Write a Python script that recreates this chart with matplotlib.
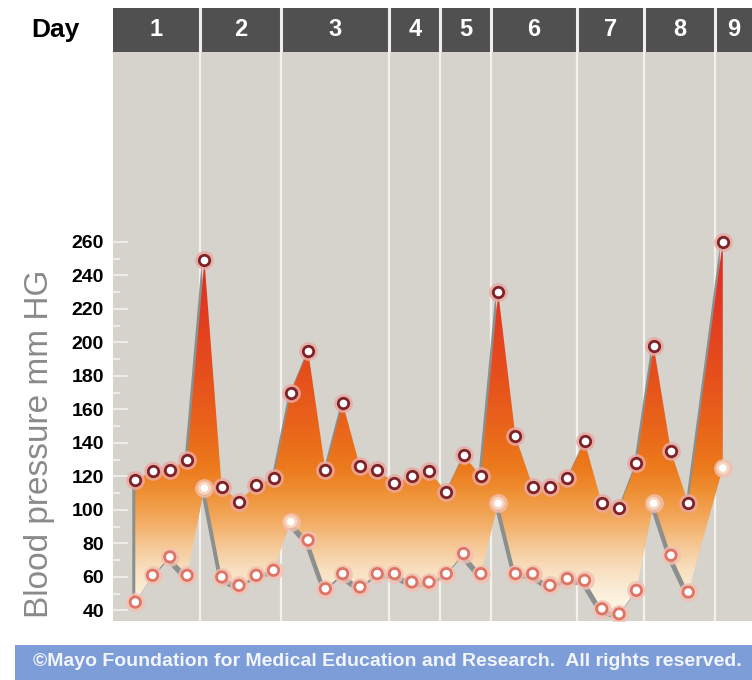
import matplotlib
matplotlib.use("Agg")
import matplotlib.pyplot as plt
import numpy as np
from matplotlib.colors import LinearSegmentedColormap, Normalize
from matplotlib.patches import Polygon, Rectangle
from matplotlib.transforms import ScaledTranslation

# readings, in order; slot 33 had no reading
reading_slot = list(range(33)) + [34]
systolic = [118, 123, 124, 130,
            249, 114, 105, 115, 119,
            170, 195, 124, 164, 126, 124,
            116, 120, 123,
            111, 133, 120,
            230, 144, 114, 114, 119,
            141, 104, 101, 128,
            198, 135, 104,
            260]
diastolic = [45, 61, 72, 61,
             113, 60, 55, 61, 64,
             93, 82, 53, 62, 54, 62,
             62, 57, 57,
             62, 74, 62,
             104, 62, 62, 55, 59,
             58, 41, 38, 52,
             104, 73, 51,
             125]
days = ["1", "2", "3", "4", "5", "6", "7", "8", "9"]
day_edges = [3.75, 8.43, 14.71, 17.66, 20.59, 25.57, 29.45, 33.56]
yticks = list(range(40, 261, 20))

X0, X1 = -1.29, 35.69
Y0, Y1 = 33.9, 373.4

fig = plt.figure(figsize=(7.52, 6.8), dpi=100)
W, H = 752, 680

ax = fig.add_axes([113 / W, (H - 620.7) / H, (W - 113) / W, (620.7 - 52) / H])
ax.set_facecolor("#d6d2cc")
for e in day_edges:
    ax.axvline(e, color="#f4f2ee", lw=1.6, zorder=1)

# polygon between the two series, with a drop shadow
pts = list(zip(reading_slot, systolic)) + list(zip(reading_slot[::-1], diastolic[::-1]))
shadow = Polygon(pts, closed=True, fc="#838888", ec="none", alpha=0.9, zorder=2,
                 transform=ax.transData + ScaledTranslation(-3 / 100, -5 / 100, fig.dpi_scale_trans))
ax.add_patch(shadow)
poly = Polygon(pts, closed=True, fc="none", ec="none", zorder=3)
ax.add_patch(poly)

stops = [(Y0, "#fdf8ee"), (50, "#fbefda"), (65, "#f8debd"), (80, "#f5c48e"),
         (95, "#f2a85c"), (110, "#ef9034"), (125, "#ec7a1c"), (150, "#e9641a"),
         (180, "#e6501c"), (220, "#e33a20"), (260, "#e02822"), (Y1, "#d82020")]
cmap = LinearSegmentedColormap.from_list("bp", [((v - Y0) / (Y1 - Y0), c) for v, c in stops])
grad = np.linspace(Y0, Y1, 500)[:, None]
im = ax.imshow(grad, extent=[X0, X1, Y0, Y1], origin="lower", aspect="auto",
               cmap=cmap, norm=Normalize(Y0, Y1), zorder=3, interpolation="bilinear")
im.set_clip_path(poly)

# markers
ax.plot(reading_slot, systolic, "o", ms=12.5, color="#eba9a2", alpha=0.75, zorder=5)
ax.plot(reading_slot, systolic, "o", ms=7.5, mfc="white", mec="#7e2228", mew=2.0, zorder=6)
ax.plot(reading_slot, diastolic, "o", ms=12.5, color="#f3c0b2", alpha=0.75, zorder=5)
ring = ["#f7d6bd" if d > 90 else "#e07464" for d in diastolic]
ax.scatter(reading_slot, diastolic, s=56, c="white", edgecolors=ring, linewidths=2.0, zorder=6)

ax.set_xlim(X0, X1)
ax.set_ylim(Y0, Y1)
ax.set_xticks([])
ax.set_yticks(yticks)
ax.set_yticklabels([str(t) for t in yticks], fontsize=14, fontweight="bold",
                   family=["Liberation Sans", "DejaVu Sans"])
ax.set_yticks(list(range(50, 251, 20)), minor=True)
ax.tick_params(axis="y", which="major", direction="in", length=11, width=1.2,
               color="#f4f2ee", pad=6.5)
ax.tick_params(axis="y", which="minor", direction="in", length=5, width=1.2,
               color="#f4f2ee")
for s in ax.spines.values():
    s.set_visible(False)

# header strip with day numbers
hax = fig.add_axes([113 / W, (H - 52) / H, (W - 113) / W, 44 / H])
hax.set_xlim(X0, X1)
hax.set_ylim(0, 1)
hax.axis("off")
hax.add_patch(Rectangle((X0, 0), X1 - X0, 1, fc="#505050", zorder=0))
for e in day_edges:
    hax.axvline(e, color="#f0eeea", lw=2.2)
bounds = [X0] + day_edges + [X1]
for i, d in enumerate(days):
    hax.text((bounds[i] + bounds[i + 1]) / 2, 0.5, d, color="white", fontsize=17,
             fontweight="bold", ha="center", va="center",
             family=["Liberation Sans Narrow", "Liberation Sans", "DejaVu Sans"])

fig.text(55 / W, 1 - 30 / H, "Day", fontsize=19, fontweight="bold", ha="center", va="center",
         family=["Liberation Sans Narrow", "Liberation Sans", "DejaVu Sans"])
fig.text(40 / W, 1 - 444 / H, "Blood pressure mm HG", rotation=90, fontsize=24,
         color="#8a8a8a", ha="center", va="center", family=["Liberation Sans", "DejaVu Sans"])

# footer band
fig.patches.append(Rectangle((15 / W, 0), 1 - 15 / W, 35 / H, transform=fig.transFigure,
                             fc="#7d9dd8", ec="none"))
fig.text(387 / W, 1 - 662 / H,
         "\u00a9Mayo Foundation for Medical Education and Research.  All rights reserved.",
         color="#f2f5fc", fontsize=14, fontweight="bold", ha="center", va="center",
         family=["Liberation Sans Narrow", "Liberation Sans", "DejaVu Sans"])

fig.savefig("out.png", dpi=100)
